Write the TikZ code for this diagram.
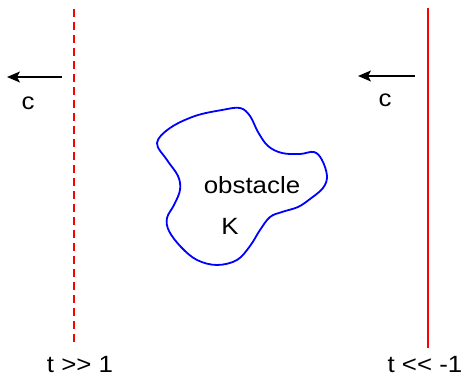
\documentclass[tikz,border=0pt]{standalone}
\usepackage{fontspec}
\setmainfont{Liberation Sans}
\usetikzlibrary{arrows.meta}
\tikzset{
  lbl/.style={inner sep=0pt, font=\fontsize{23.5}{27}\selectfont},
  wavefront/.style={red, line width=1.8pt},
  movearrow/.style={line width=1.2pt, -{Stealth[length=13pt,width=11pt,inset=3pt]}},
  blob/.style={blue, line width=1.8pt}
}
\newcommand{\wide}[1]{\scalebox{1.1}[1]{#1}}
\begin{document}
\begin{tikzpicture}[x=1pt,y=-1pt]
\useasboundingbox (0,0) rectangle (464,377);
% wavefronts
\coordinate (dtop) at (74,9);
\coordinate (dbot) at (74,344);
\coordinate (stop) at (428,8);
\coordinate (sbot) at (428,348);
\draw[wavefront, dash pattern=on 8pt off 5pt] (dtop) -- (dbot);
\draw[wavefront] (stop) -- (sbot);
% arrows
\coordinate (la1) at (62,77);
\coordinate (la2) at (7,77);
\coordinate (ra1) at (415,76);
\coordinate (ra2) at (358,76);
\draw[movearrow] (la1) -- (la2);
\draw[movearrow] (ra1) -- (ra2);
% labels
\node[lbl] (cl) at (28,103) {\wide{c}};
\node[lbl] (cr) at (385,100) {\wide{c}};
\node[lbl] (tl) at (80,365) {\wide{t >\kern0pt> 1}};
\node[lbl] (tr) at (425,365) {\wide{t <\kern0pt< -1}};
% obstacle
\draw[blob] plot[smooth cycle, tension=0.6] coordinates {
(157,143) (170,128) (195,116) (222,110) (240,108) (250,116) (258,132) (268,146)
(282,153) (300,154) (314,152) (322,160) (327,176) (323,188) (310,199) (298,207)
(282,212) (270,217) (260,230) (250,246) (237,260) (217,265) (197,260) (181,247)
(169,231) (167,218) (174,205) (180,190) (178,176) (167,160)};
\node[lbl] (obs) at (252,185) {\wide{obstacle}};
\node[lbl] (K) at (230,226) {\wide{K}};
\end{tikzpicture}
\end{document}
